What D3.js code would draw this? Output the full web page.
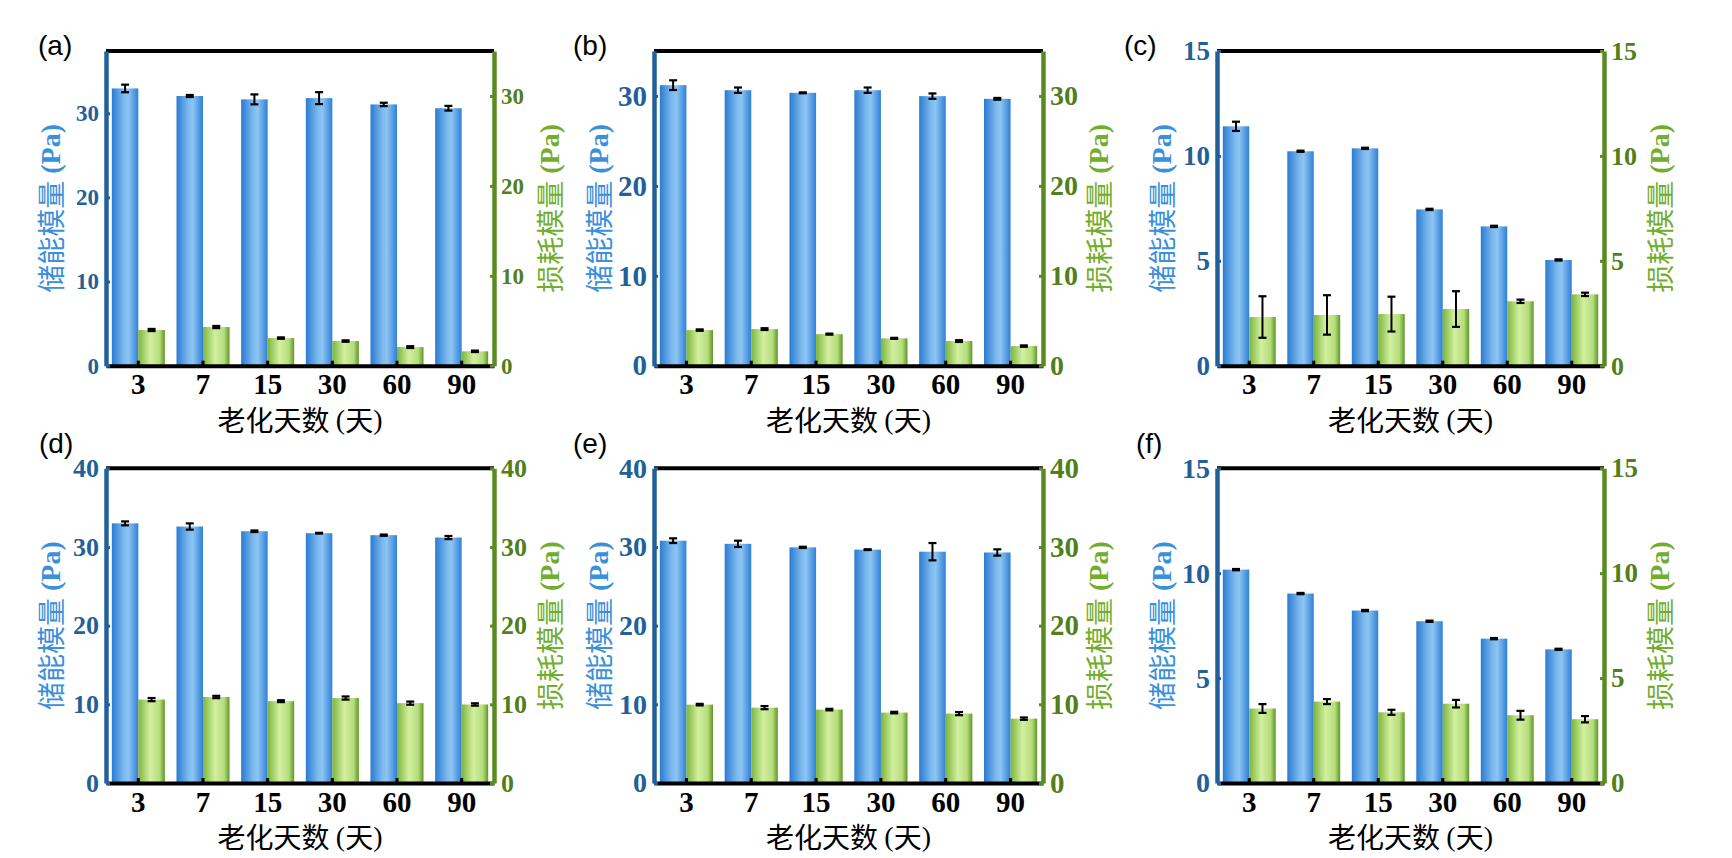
<!DOCTYPE html>
<html>
<head>
<meta charset="utf-8">
<script src="https://cdn.jsdelivr.net/npm/d3@7"></script>
<style>
  body { margin: 0; background: #fff; }
  svg { display: block; }
</style>
</head>
<body>
<svg id="chart" width="1732" height="858"></svg>
<script>
// ageing days on the x axis
const days = ['3', '7', '15', '30', '60', '90'];
const panelLabels = ['(a)', '(b)', '(c)', '(d)', '(e)', '(f)'];

// storage modulus (left axis) and loss modulus (right axis), with error
const storageA = [32.95, 32.05, 31.65, 31.8, 31.05, 30.6];
const storageErrA = [0.45, 0.12, 0.59, 0.71, 0.2, 0.28];
const lossA = [3.97, 4.3, 3.07, 2.74, 2.07, 1.6];
const lossErrA = [0.12, 0.12, 0.08, 0.08, 0.1, 0.08];

const storageB = [31.2, 30.64, 30.35, 30.64, 29.98, 29.68];
const storageErrB = [0.54, 0.3, 0.05, 0.3, 0.3, 0.1];
const lossB = [3.96, 4.07, 3.51, 3.04, 2.74, 2.18];
const lossErrB = [0.08, 0.1, 0.06, 0.06, 0.1, 0.08];

const storageC = [11.41, 10.22, 10.36, 7.45, 6.64, 5.04];
const storageErrC = [0.22, 0.03, 0.03, 0.03, 0.03, 0.03];
const lossC = [2.32, 2.42, 2.46, 2.7, 3.07, 3.4];
const lossErrC = [0.99, 0.94, 0.83, 0.85, 0.08, 0.08];

const storageD = [33.0, 32.6, 32.0, 31.75, 31.5, 31.2];
const storageErrD = [0.25, 0.4, 0.1, 0.05, 0.08, 0.2];
const lossD = [10.6, 10.93, 10.4, 10.8, 10.15, 9.98];
const lossErrD = [0.2, 0.15, 0.12, 0.2, 0.2, 0.15];

const storageE = [30.8, 30.4, 29.95, 29.66, 29.4, 29.3];
const storageErrE = [0.3, 0.4, 0.08, 0.05, 1.1, 0.4];
const lossE = [9.96, 9.58, 9.33, 8.95, 8.82, 8.18];
const lossErrE = [0.1, 0.2, 0.1, 0.1, 0.2, 0.15];

const storageF = [10.17, 9.03, 8.22, 7.71, 6.88, 6.37];
const storageErrF = [0.03, 0.03, 0.03, 0.03, 0.03, 0.03];
const lossF = [3.55, 3.88, 3.37, 3.78, 3.23, 3.04];
const lossErrF = [0.21, 0.12, 0.12, 0.18, 0.21, 0.15];

// axis extents and tick values
const leftMax = [37.4, 35, 15, 40, 40, 15];
const rightMax = [35, 35, 15, 40, 40, 15];
const ticks30 = [0, 10, 20, 30];
const ticks40 = [0, 10, 20, 30, 40];
const ticks15 = [0, 5, 10, 15];
const leftTicks = [ticks30, ticks30, ticks15, ticks40, ticks40, ticks15];
const rightTicks = [ticks30, ticks30, ticks15, ticks40, ticks40, ticks15];

const leftTitle = '储能模量';
const rightTitle = '损耗模量';
const xTitle = '老化天数';

const storage = [storageA, storageB, storageC, storageD, storageE, storageF];
const storageErr = [storageErrA, storageErrB, storageErrC, storageErrD, storageErrE, storageErrF];
const loss = [lossA, lossB, lossC, lossD, lossE, lossF];
const lossErr = [lossErrA, lossErrB, lossErrC, lossErrD, lossErrE, lossErrF];

// layout
const colX = [[106, 494], [654, 1043], [1217, 1604]];
const rowY = [[51, 365.7], [468.3, 783]];
const labelX = [38, 573, 1124, 39, 573, 1136];
const labelY = [45, 443];
const leftFont = [23, 29, 27, 26, 28, 28];
const rightFont = [23, 28, 26, 26, 29, 27];

const blueAxis = '#22609a';
const blueTitle = '#3b90dc';
const greenAxis = '#5a8a22';
const greenTick = '#527f1c';
const greenTitle = '#72ad2e';
const serif = '"Liberation Serif", "Times New Roman", serif';
const cjk = '"Noto Sans CJK SC", sans-serif';

const svg = d3.select('#chart');
svg.append('rect').attr('width', 1732).attr('height', 858).attr('fill', '#fff');

const defs = svg.append('defs');
const gBlue = defs.append('linearGradient').attr('id', 'gBlue').attr('x1', '0%').attr('x2', '100%');
[[0, '#2a7bd2'], [0.45, '#7cb9ee'], [0.62, '#8dc5f3'], [1, '#2f80d6']].forEach(([o, c]) =>
  gBlue.append('stop').attr('offset', o).attr('stop-color', c));
const gGreen = defs.append('linearGradient').attr('id', 'gGreen').attr('x1', '0%').attr('x2', '100%');
[[0, '#7db53c'], [0.45, '#d2f0a0'], [0.8, '#b6dc7c'], [1, '#5e9726']].forEach(([o, c]) =>
  gGreen.append('stop').attr('offset', o).attr('stop-color', c));

function styleTicks(g, fill, size) {
  g.selectAll('.tick text')
    .attr('fill', fill)
    .style('font-family', serif)
    .style('font-weight', 'bold')
    .style('font-size', size + 'px');
}

function errorBars(g, cx, vals, errs, y) {
  const capW = 4;
  vals.forEach((v, i) => {
    const c = cx[i];
    const top = y(v + errs[i]);
    const bot = y(v - errs[i]);
    g.append('line').attr('x1', c).attr('x2', c).attr('y1', top).attr('y2', bot)
      .attr('stroke', '#000').attr('stroke-width', 2);
    [top, bot].forEach(yy => g.append('line')
      .attr('x1', c - capW).attr('x2', c + capW).attr('y1', yy).attr('y2', yy)
      .attr('stroke', '#000').attr('stroke-width', 2.2));
  });
}

panelLabels.forEach((label, p) => {
  const [x0, x1] = colX[p % 3];
  const [y0, y1] = rowY[Math.floor(p / 3)];
  const g = svg.append('g');

  const x = d3.scaleBand().domain(days).range([x0, x1]);
  const yL = d3.scaleLinear().domain([0, leftMax[p]]).range([y1, y0]);
  const yR = d3.scaleLinear().domain([0, rightMax[p]]).range([y1, y0]);
  const bw = x.bandwidth() * 0.41;
  const centre = d => x(d) + x.bandwidth() / 2;

  // bars
  g.selectAll('rect.storage').data(storage[p]).join('rect')
    .attr('x', (d, i) => centre(days[i]) - bw)
    .attr('width', bw)
    .attr('y', d => yL(d))
    .attr('height', d => y1 - yL(d))
    .attr('fill', 'url(#gBlue)');
  g.selectAll('rect.loss').data(loss[p]).join('rect')
    .attr('x', (d, i) => centre(days[i]))
    .attr('width', bw)
    .attr('y', d => yR(d))
    .attr('height', d => y1 - yR(d))
    .attr('fill', 'url(#gGreen)');

  // frame: black top line
  g.append('line').attr('x1', x0).attr('x2', x1).attr('y1', y0).attr('y2', y0)
    .attr('stroke', '#000').attr('stroke-width', 4);

  // bottom axis
  const gx = g.append('g').attr('transform', `translate(0,${y1})`)
    .call(d3.axisBottom(x).tickSize(-5).tickSizeOuter(0).tickPadding(8));
  gx.select('.domain').attr('stroke', '#000').attr('stroke-width', 4);
  gx.selectAll('.tick line').attr('stroke', '#000').attr('stroke-width', 3);
  gx.selectAll('.tick text').attr('fill', '#000')
    .style('font-family', serif).style('font-weight', 'bold').style('font-size', '29px');

  // left axis
  const gl = g.append('g').attr('transform', `translate(${x0},0)`)
    .call(d3.axisLeft(yL).tickValues(leftTicks[p]).tickSize(-4).tickSizeOuter(0).tickPadding(7));
  gl.select('.domain').attr('stroke', blueAxis).attr('stroke-width', 4.5);
  gl.selectAll('.tick line').attr('stroke', blueAxis).attr('stroke-width', 3);
  styleTicks(gl, blueAxis, leftFont[p]);

  // right axis
  const gr = g.append('g').attr('transform', `translate(${x1},0)`)
    .call(d3.axisRight(yR).tickValues(rightTicks[p]).tickSize(-4).tickSizeOuter(0).tickPadding(7));
  gr.select('.domain').attr('stroke', greenAxis).attr('stroke-width', 4.5);
  gr.selectAll('.tick line').attr('stroke', greenAxis).attr('stroke-width', 3);
  styleTicks(gr, greenTick, rightFont[p]);

  // error bars
  const cx = days.map(centre);
  errorBars(g, cx.map(c => c - bw / 2), storage[p], storageErr[p], yL);
  errorBars(g, cx.map(c => c + bw / 2), loss[p], lossErr[p], yR);

  // axis titles
  const midY = (y0 + y1) / 2;
  const lt = g.append('text')
    .attr('transform', `translate(${x0 - 56},${midY}) rotate(-90)`)
    .attr('text-anchor', 'middle').attr('dominant-baseline', 'central')
    .attr('fill', blueTitle).style('font-size', '28px');
  lt.append('tspan').style('font-family', cjk).text(leftTitle);
  lt.append('tspan').style('font-family', serif).style('font-weight', 'bold').text(' (Pa)');

  const rt = g.append('text')
    .attr('transform', `translate(${x1 + 55},${midY}) rotate(-90)`)
    .attr('text-anchor', 'middle').attr('dominant-baseline', 'central')
    .attr('fill', greenTitle).style('font-size', '28px');
  rt.append('tspan').style('font-family', cjk).text(rightTitle);
  rt.append('tspan').style('font-family', serif).style('font-weight', 'bold').text(' (Pa)');

  const xt = g.append('text')
    .attr('x', (x0 + x1) / 2).attr('y', y1 + 53)
    .attr('text-anchor', 'middle').attr('dominant-baseline', 'central')
    .attr('fill', '#000').style('font-size', '28px');
  xt.append('tspan').style('font-family', cjk).text(xTitle + ' ');
  xt.append('tspan').style('font-family', serif).text('(');
  xt.append('tspan').style('font-family', cjk).text('天');
  xt.append('tspan').style('font-family', serif).text(')');

  // panel letter
  svg.append('text')
    .attr('x', labelX[p]).attr('y', labelY[Math.floor(p / 3)])
    .attr('dominant-baseline', 'central')
    .attr('fill', '#000')
    .style('font-family', '"Liberation Sans", Arial, sans-serif')
    .style('font-size', '28px')
    .text(label);
});
</script>
</body>
</html>
